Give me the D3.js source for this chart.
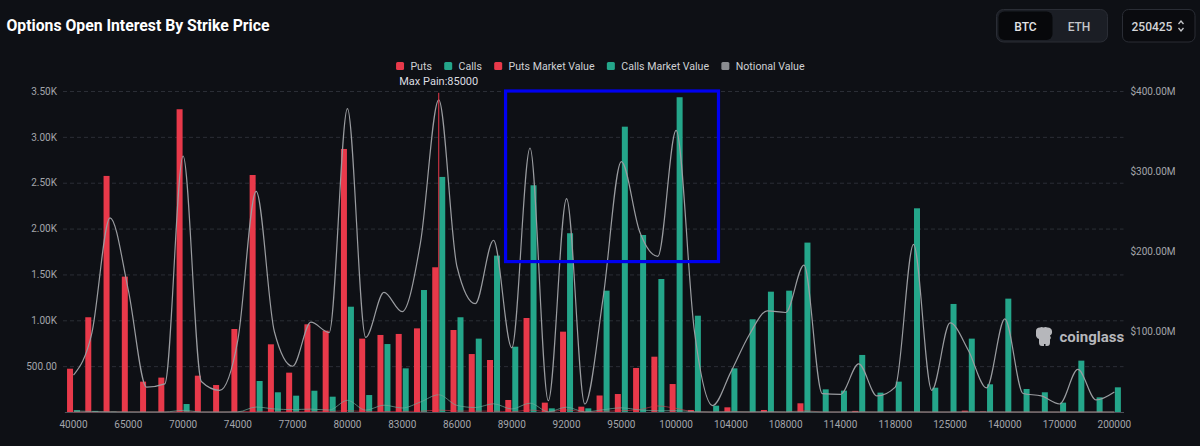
<!DOCTYPE html>
<html>
<head>
<meta charset="utf-8">
<script src="https://cdn.jsdelivr.net/npm/d3@7"></script>
<style>
html,body{margin:0;padding:0;background:#0e1015;}
svg{display:block;font-family:Roboto,"Noto Sans",Arial,sans-serif;}
</style>
</head>
<body>
<svg id="chart" width="1200" height="446"></svg>
<script>
// ---------- DATA ----------
const strikes = [40000,50000,60000,65000,66000,68000,70000,72000,73000,74000,75000,76000,77000,78000,79000,80000,81000,82000,83000,84000,85000,86000,87000,88000,89000,90000,91000,92000,93000,94000,95000,96000,98000,100000,102000,103000,104000,105000,106000,108000,110000,112000,114000,115000,116000,118000,120000,122000,125000,130000,135000,140000,150000,160000,170000,180000,190000,200000];
const puts = [472,1033,2574,1476,331,375,3301,396,294,905,2584,738,429,956,887,2868,800,840,851,912,1578,894,632,567,131,1025,102,876,58,180,196,480,603,305,22,0,51,0,22,0,95,0,0,12,0,0,0,0,0,15,5,0,0,0,0,0,0,0];
const calls = [20,12,5,0,0,0,87,0,0,5,338,215,178,232,167,1148,185,741,476,1330,2563,1033,800,1705,712,2472,40,1949,40,1323,3111,1930,1450,3432,1050,69,476,1011,1312,1323,1847,247,233,622,211,331,2221,265,1178,800,302,1236,251,215,102,560,160,269];
// market values and notional value in $M (right axis)
const putsMarketValue = [0.1,0.2,0.4,0.3,0.1,0.1,0.5,0.1,0.1,0.3,0.9,0.3,0.2,0.5,0.5,1.6,0.5,0.6,0.7,0.9,2.4,1.2,1.0,1.1,0.3,2.4,0.3,2.6,0.2,0.8,1.5,3.0,7.5,4.5,0.4,0.1,0.8,0.1,0.4,0.1,1.5,0.1,0.1,0.3,0.1,0.1,0.1,0.1,0.1,0.4,0.2,0.1,0.1,0.1,0.1,0.1,0.1,0.1];
const callsMarketValue = [1.3,0.7,0.2,0.1,0.1,0.1,2.0,0.1,0.1,0.2,6.2,3.8,3.0,3.6,2.4,14.5,2.3,8.5,5.0,12.5,21.5,8.2,5.6,10.2,3.8,11.0,0.3,6.0,0.2,2.8,5.2,2.6,1.5,1.6,0.4,0.1,0.2,0.3,0.3,0.2,0.3,0.1,0.1,0.1,0.1,0.1,0.2,0.1,0.1,0.1,0.1,0.1,0.1,0.1,0.1,0.1,0.1,0.1];
const notionalValue = [46,98,242,152,31,35,319,38,27,90,275,100,57,112,99,378,93,149,125,211,389,181,135,214,80,329,14,266,10,142,312,225,194,351,101,8,50,96,126,124,183,23,22,60,20,31,209,27,111,77,30,116,23,20,10,53,15,25];
const leftTicks = [500,1000,1500,2000,2500,3000,3500];
const rightTicks = [100,200,300,400];
const xTickStrikes = [40000,65000,70000,74000,77000,80000,83000,86000,89000,92000,95000,100000,104000,108000,114000,118000,125000,140000,170000,200000];
const maxPain = 85000;
const legendNames = ["Puts","Calls","Puts Market Value","Calls Market Value","Notional Value"];
const legendColors = ["#e8394a","#24a68a","#e8394a","#24a68a","#8a8c90"];
const highlightBox = {fromStrike: 89000, toStrike: 103000, fromValue: 1640, toValue: 3500};

// ---------- LAYOUT ----------
const W = 1200, H = 446;
const plotL = 63, plotR = 1123.5, plotT = 91, plotB = 412;
const RED = "#e8394a", TEAL = "#24a68a", GREY = "#9a9ca0";

const svg = d3.select("#chart");
svg.append("rect").attr("width", W).attr("height", H).attr("fill", "#0e1015");

const x = d3.scaleBand().domain(strikes).range([64.4, plotR]).padding(0);
const bw = x.bandwidth();
const x1 = d3.scaleBand().domain(["puts","calls"]).range([bw/2 - 6.5, bw/2 + 6.5]).paddingInner(1/7);
const yL = d3.scaleLinear().domain([0, 3500]).range([plotB, plotT]);
const yR = d3.scaleLinear().domain([0, 400]).range([plotB, plotT]);
const cx = s => x(s) + bw/2;

// Title
svg.append("text").attr("x", 6.5).attr("y", 31)
  .attr("fill", "#ffffff").attr("font-size", 16.5).attr("font-weight", 700)
  .attr("textLength", 263).attr("lengthAdjust", "spacingAndGlyphs")
  .text("Options Open Interest By Strike Price");

// Toggle buttons
const tg = svg.append("g");
tg.append("rect").attr("x", 996.5).attr("y", 9.5).attr("width", 111).attr("height", 32.5).attr("rx", 7)
  .attr("fill", "#1b1e25").attr("stroke", "#2a2d35");
tg.append("rect").attr("x", 998.5).attr("y", 11.5).attr("width", 54).attr("height", 28.5).attr("rx", 6)
  .attr("fill", "#07080b");
tg.append("text").attr("x", 1025.5).attr("y", 30.7).attr("text-anchor", "middle").attr("fill", "#e4e4e6")
  .attr("font-size", 12).attr("font-weight", 500).text("BTC");
tg.append("text").attr("x", 1079).attr("y", 30.7).attr("text-anchor", "middle").attr("fill", "#c4c6ca")
  .attr("font-size", 12).attr("font-weight", 500).text("ETH");
tg.append("rect").attr("x", 1122.5).attr("y", 9.5).attr("width", 72.5).attr("height", 32.5).attr("rx", 6)
  .attr("fill", "#0a0b0f").attr("stroke", "#2a2d35");
tg.append("text").attr("x", 1131.5).attr("y", 30.7).attr("fill", "#d4d5d8")
  .attr("font-size", 12).attr("font-weight", 500).text("250425");
tg.append("path").attr("d", "M1178.5,24 l2.5,-3 l2.5,3 M1178.5,28 l2.5,3 l2.5,-3")
  .attr("fill", "none").attr("stroke", "#c4c6ca").attr("stroke-width", 1.3);

// Gridlines + left axis
const gL = svg.append("g").attr("transform", `translate(${plotL},0)`)
  .call(d3.axisLeft(yL).tickValues(leftTicks).tickSize(-(plotR - plotL)).tickPadding(6)
    .tickFormat(v => v >= 1000 ? (v/1000).toFixed(2) + "K" : v.toFixed(2)));
gL.select(".domain").remove();
gL.selectAll(".tick line").attr("stroke", "#2b2e36").attr("stroke-dasharray", "4,3");
gL.selectAll(".tick text").attr("fill", "#a3a5ab").attr("font-size", 10).attr("font-family", "Roboto,sans-serif");

// Right axis
const gR = svg.append("g").attr("transform", `translate(${plotR},0)`)
  .call(d3.axisRight(yR).tickValues(rightTicks).tickSize(0).tickPadding(7)
    .tickFormat(v => "$" + v.toFixed(2) + "M"));
gR.select(".domain").remove();
gR.selectAll(".tick text").attr("fill", "#a3a5ab").attr("font-size", 10).attr("font-family", "Roboto,sans-serif");

// Watermark
const wm = svg.append("g");
wm.append("path")
  .attr("d", "M1036,331 q0,-3.5 4,-3.5 q1.5,-1 3.5,0 q2,-1 4,0 q4,0 4.5,3.5 q0.5,3 -2,4.5 q1.5,2 0,4 v3 q0,3.5 -3,3.5 h-1.5 v-2 h-1.5 v2 h-2 q-3,0 -3,-3.5 v-3.5 q-3.5,-1.5 -3,-5 z")
  .attr("fill", "#b6b7bb");
wm.append("text").attr("x", 1059.5).attr("y", 342).attr("fill", "#b6b7bb")
  .attr("font-size", 15).attr("font-weight", 700).text("coinglass");

// Bars
const groups = svg.append("g").selectAll("g").data(strikes).join("g")
  .attr("transform", s => `translate(${x(s)},0)`);
groups.append("rect")
  .attr("x", x1("puts")).attr("width", x1.bandwidth())
  .attr("y", (s,i) => yL(puts[i])).attr("height", (s,i) => plotB - yL(puts[i]))
  .attr("fill", RED);
groups.append("rect")
  .attr("x", x1("calls")).attr("width", x1.bandwidth())
  .attr("y", (s,i) => yL(calls[i])).attr("height", (s,i) => plotB - yL(calls[i]))
  .attr("fill", TEAL);

// X axis
const gX = svg.append("g").attr("transform", `translate(0,${plotB})`)
  .call(d3.axisBottom(x).tickValues(xTickStrikes).tickSize(0).tickPadding(9));
gX.select(".domain").attr("stroke", "#4d5058").attr("stroke-width", 1);
gX.selectAll(".tick text").attr("fill", "#a3a5ab").attr("font-size", 10).attr("font-family", "Roboto,sans-serif");

// Lines
const lineGen = arr => d3.line().x((s) => cx(s)).y((s,i) => yR(arr[i])).curve(d3.curveMonotoneX)(strikes);
svg.append("path").attr("d", lineGen(putsMarketValue)).attr("fill", "none")
  .attr("stroke", RED).attr("stroke-opacity", 0.55).attr("stroke-width", 1);
svg.append("path").attr("d", lineGen(callsMarketValue)).attr("fill", "none")
  .attr("stroke", "#6fa89a").attr("stroke-opacity", 0.7).attr("stroke-width", 1);
svg.append("path").attr("d", lineGen(notionalValue)).attr("fill", "none")
  .attr("stroke", GREY).attr("stroke-width", 1.2);

// Max pain
const mpx = cx(maxPain);
svg.append("line").attr("x1", mpx).attr("x2", mpx).attr("y1", yL(3480)).attr("y2", plotB)
  .attr("stroke", RED).attr("stroke-width", 1);
svg.append("text").attr("x", mpx).attr("y", 85).attr("text-anchor", "middle")
  .attr("fill", "#dcdde0").attr("font-size", 11).text("Max Pain:" + maxPain);

// Legend
const lg = svg.append("g");
let lx = 0;
const gap = 12.3;
legendNames.forEach((n, i) => {
  const g = lg.append("g");
  g.append("rect").attr("x", 0).attr("y", -4).attr("width", 8).attr("height", 8).attr("rx", 1.5).attr("fill", legendColors[i]);
  const t = g.append("text").attr("x", 14.4).attr("y", 4).attr("fill", "#cfd0d4").attr("font-size", 10.6).text(n);
  const w = 14.4 + t.node().getComputedTextLength();
  g.attr("transform", `translate(${lx},66)`);
  lx += w + gap;
});
const totalW = lx - gap;
lg.attr("transform", `translate(${600.3 - totalW/2},0)`);

// Highlight box (annotation)
const bx0 = x(highlightBox.fromStrike) + bw*0.16;
const bx1 = x(highlightBox.toStrike) + bw*0.82;
svg.append("rect").attr("x", bx0).attr("y", yL(highlightBox.toValue))
  .attr("width", bx1 - bx0).attr("height", yL(highlightBox.fromValue) - yL(highlightBox.toValue))
  .attr("fill", "none").attr("stroke", "#0000f0").attr("stroke-width", 3.2);
</script>
</body>
</html>
